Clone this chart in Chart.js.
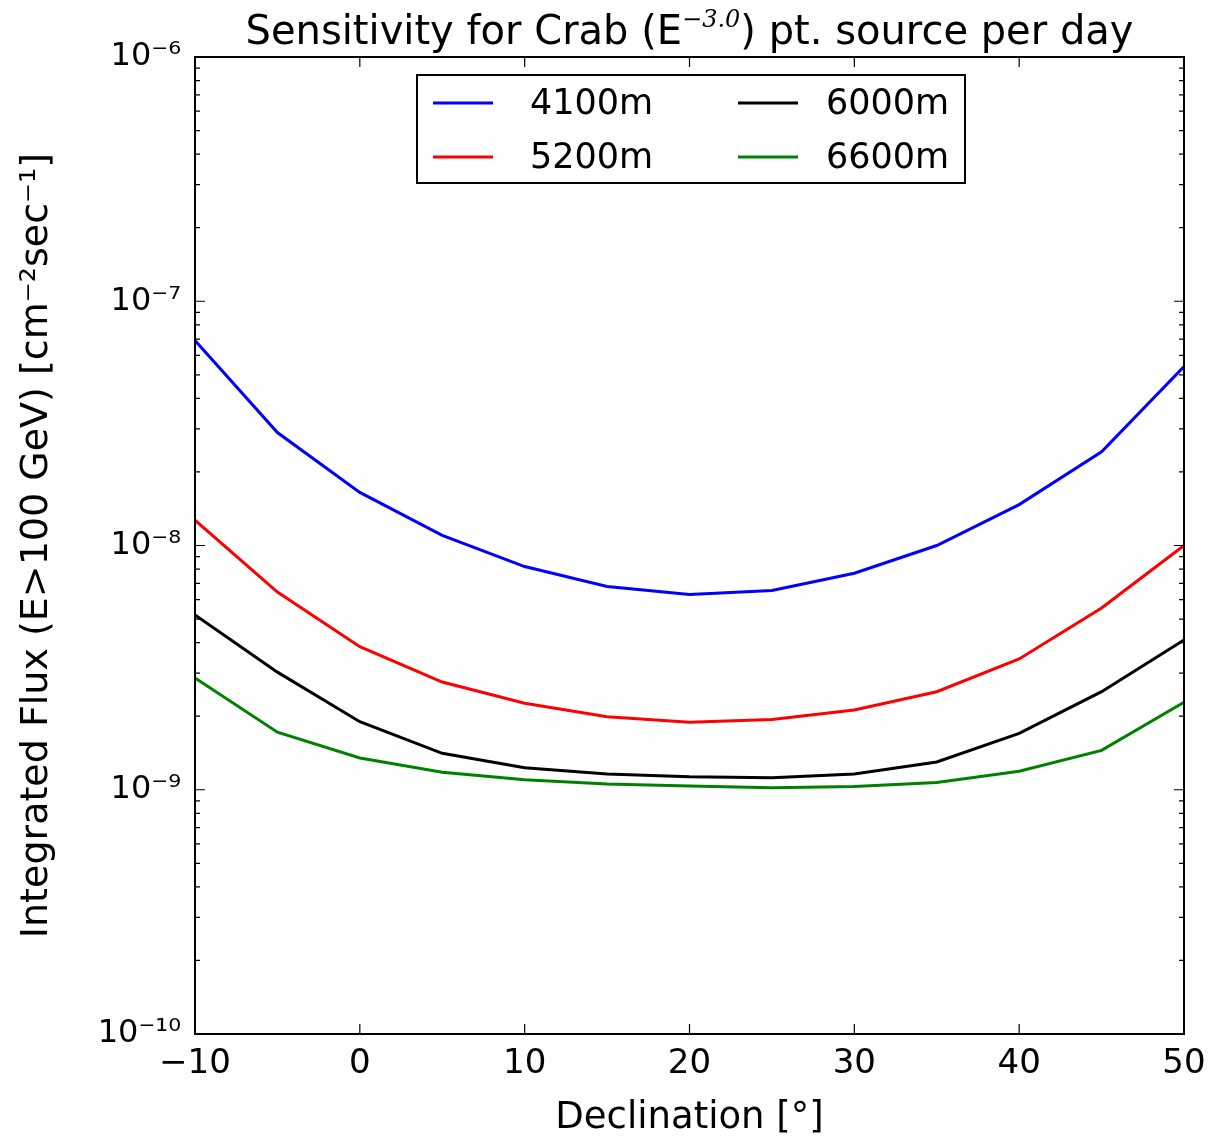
<!DOCTYPE html>
<html>
<head>
<meta charset="utf-8">
<script src="https://cdn.jsdelivr.net/npm/chart.js@4.4.0/dist/chart.umd.min.js"></script>
<style>
  html, body { margin: 0; padding: 0; background: #fff; }
  #wrap { width: 1211px; height: 1144px; }
</style>
</head>
<body>
<div id="wrap"><canvas id="sensChart" width="1211" height="1144"></canvas></div>
<script>
// declination values (degrees)
const declination = [-10, -5, 0, 5, 10, 15, 20, 25, 30, 35, 40, 45, 50];

// integrated flux sensitivity
const flux4100 = [6.9e-8, 2.9e-8, 1.65e-8, 1.1e-8, 8.2e-9, 6.8e-9, 6.3e-9, 6.55e-9, 7.7e-9, 1.0e-8, 1.47e-8, 2.42e-8, 5.4e-8];
const flux5200 = [1.27e-8, 6.45e-9, 3.85e-9, 2.76e-9, 2.26e-9, 1.99e-9, 1.89e-9, 1.94e-9, 2.12e-9, 2.52e-9, 3.43e-9, 5.55e-9, 1.0e-8];
const flux6000 = [5.2e-9, 3.03e-9, 1.9e-9, 1.41e-9, 1.23e-9, 1.16e-9, 1.13e-9, 1.12e-9, 1.16e-9, 1.3e-9, 1.7e-9, 2.52e-9, 4.1e-9];
const flux6600 = [2.87e-9, 1.72e-9, 1.35e-9, 1.18e-9, 1.1e-9, 1.055e-9, 1.035e-9, 1.02e-9, 1.03e-9, 1.07e-9, 1.19e-9, 1.45e-9, 2.28e-9];

const seriesLabels = ['4100m', '5200m', '6000m', '6600m'];
const seriesColors = ['#0000ff', '#ff0000', '#000000', '#008000'];

const xTicks = [-10, 0, 10, 20, 30, 40, 50];
const yDecades = [-10, -9, -8, -7, -6];

const FONT = '"DejaVu Sans", sans-serif';

function toPoints(ys) {
    return declination.map((x, i) => ({ x: x, y: ys[i] }));
}

const allFlux = [flux4100, flux5200, flux6000, flux6600];
const datasets = allFlux.map((ys, i) => ({
    label: seriesLabels[i],
    data: toPoints(ys),
    borderColor: seriesColors[i],
    borderWidth: 3,
    pointRadius: 0,
    tension: 0,
    fill: false,
}));

// matplotlib-like frame with inward ticks on all four sides
const framePlugin = {
    id: 'framePlugin',
    afterDatasetsDraw(chart) {
        const ctx = chart.ctx;
        const a = chart.chartArea;
        const xs = chart.scales.x, ys = chart.scales.y;
        ctx.save();
        ctx.strokeStyle = '#000';
        ctx.lineWidth = 1.2;
        ctx.beginPath();
        for (let d = -10; d < -6; d++) {
            for (let k = 1; k <= 9; k++) {
                const py = ys.getPixelForValue(k * Math.pow(10, d));
                const len = k === 1 ? 10 : 5;
                ctx.moveTo(a.left, py); ctx.lineTo(a.left + len, py);
                ctx.moveTo(a.right, py); ctx.lineTo(a.right - len, py);
            }
        }
        xTicks.forEach(v => {
            const px = xs.getPixelForValue(v);
            ctx.moveTo(px, a.bottom); ctx.lineTo(px, a.bottom - 10);
            ctx.moveTo(px, a.top); ctx.lineTo(px, a.top + 10);
        });
        ctx.stroke();
        ctx.lineWidth = 2;
        ctx.strokeRect(a.left, a.top, a.right - a.left, a.bottom - a.top);
        ctx.restore();
    }
};

// title with a real superscript
const titlePlugin = {
    id: 'titlePlugin',
    afterDraw(chart) {
        const ctx = chart.ctx;
        const a = chart.chartArea;
        const parts = [
            { t: 'Sensitivity for Crab (E', f: '40px ' + FONT, dy: 0 },
            { t: '\u22123.0', f: 'italic 24px "DejaVu Serif", serif', dy: -17 },
            { t: ') pt. source per day', f: '40px ' + FONT, dy: 0 },
        ];
        ctx.save();
        ctx.fillStyle = '#000';
        ctx.textBaseline = 'alphabetic';
        let total = 0;
        parts.forEach(p => { ctx.font = p.f; p.w = ctx.measureText(p.t).width; total += p.w; });
        let x = (a.left + a.right) / 2 - total / 2;
        const base = 44;
        parts.forEach(p => {
            ctx.font = p.f;
            ctx.fillText(p.t, x, base + p.dy);
            x += p.w;
        });
        ctx.restore();
    }
};

// two-column legend box
const legendPlugin = {
    id: 'legendPlugin',
    afterDraw(chart) {
        const ctx = chart.ctx;
        const a = chart.chartArea;
        const bx = a.left + 222, by = a.top + 18, bw = 548, bh = 108;
        ctx.save();
        ctx.fillStyle = '#fff';
        ctx.fillRect(bx, by, bw, bh);
        ctx.strokeStyle = '#000';
        ctx.lineWidth = 2;
        ctx.strokeRect(bx, by, bw, bh);
        ctx.font = '35px ' + FONT;
        ctx.textBaseline = 'middle';
        chart.data.datasets.forEach((ds, i) => {
            const col = Math.floor(i / 2), row = i % 2;
            const lx = bx + (col === 0 ? 16 : 321);
            const tx = bx + (col === 0 ? 113 : 409);
            const ly = by + (row === 0 ? 28 : 82);
            ctx.strokeStyle = ds.borderColor;
            ctx.lineWidth = 3;
            ctx.beginPath();
            ctx.moveTo(lx, ly); ctx.lineTo(lx + 60, ly);
            ctx.stroke();
            ctx.fillStyle = '#000';
            ctx.fillText(ds.label, tx, ly + 2);
        });
        ctx.restore();
    }
};

const supers = { '-': '\u207b', '0': '\u2070', '1': '\u00b9', '6': '\u2076', '7': '\u2077', '8': '\u2078', '9': '\u2079' };
function powLabel(exp) {
    return '10' + String(exp).split('').map(c => supers[c] || c).join('');
}

const ctx = document.getElementById('sensChart').getContext('2d');
new Chart(ctx, {
    type: 'line',
    data: { datasets: datasets },
    options: {
        responsive: false,
        animation: false,
        layout: { padding: { top: 57, right: 27, left: 0, bottom: 0 } },
        plugins: {
            legend: { display: false },
            title: { display: false },
            tooltip: { enabled: false },
        },
        scales: {
            x: {
                type: 'linear',
                min: -10,
                max: 50,
                afterFit(scale) {
                    scale.height = 110;
                    scale.paddingLeft = 0;
                    scale.paddingRight = 0;
                },
                afterBuildTicks(scale) { scale.ticks = xTicks.map(v => ({ value: v })); },
                grid: { display: false, drawTicks: false },
                border: { display: false },
                ticks: {
                    padding: 10,
                    color: '#000',
                    font: { family: FONT, size: 34 },
                    callback: v => (v < 0 ? '\u2212' + Math.abs(v) : String(v)),
                },
                title: {
                    display: true,
                    text: 'Declination [\u00b0]',
                    color: '#000',
                    font: { family: FONT, size: 37 },
                    padding: { top: 0, bottom: 3 },
                },
            },
            y: {
                type: 'logarithmic',
                min: 1e-10,
                max: 1e-6,
                afterFit(scale) {
                    scale.width = 195;
                    scale.paddingTop = 0;
                    scale.paddingBottom = 0;
                },
                afterBuildTicks(scale) { scale.ticks = yDecades.map(e => ({ value: Math.pow(10, e) })); },
                grid: { display: false, drawTicks: false },
                border: { display: false },
                ticks: {
                    padding: 14,
                    color: '#000',
                    font: { family: FONT, size: 32 },
                    callback: v => powLabel(Math.round(Math.log10(v))),
                },
                title: {
                    display: true,
                    text: 'Integrated Flux (E>100 GeV) [cm\u207b\u00b2sec\u207b\u00b9]',
                    color: '#000',
                    font: { family: FONT, size: 38 },
                    padding: { top: 14, bottom: 0 },
                },
            },
        },
    },
    plugins: [framePlugin, titlePlugin, legendPlugin],
});
</script>
</body>
</html>
